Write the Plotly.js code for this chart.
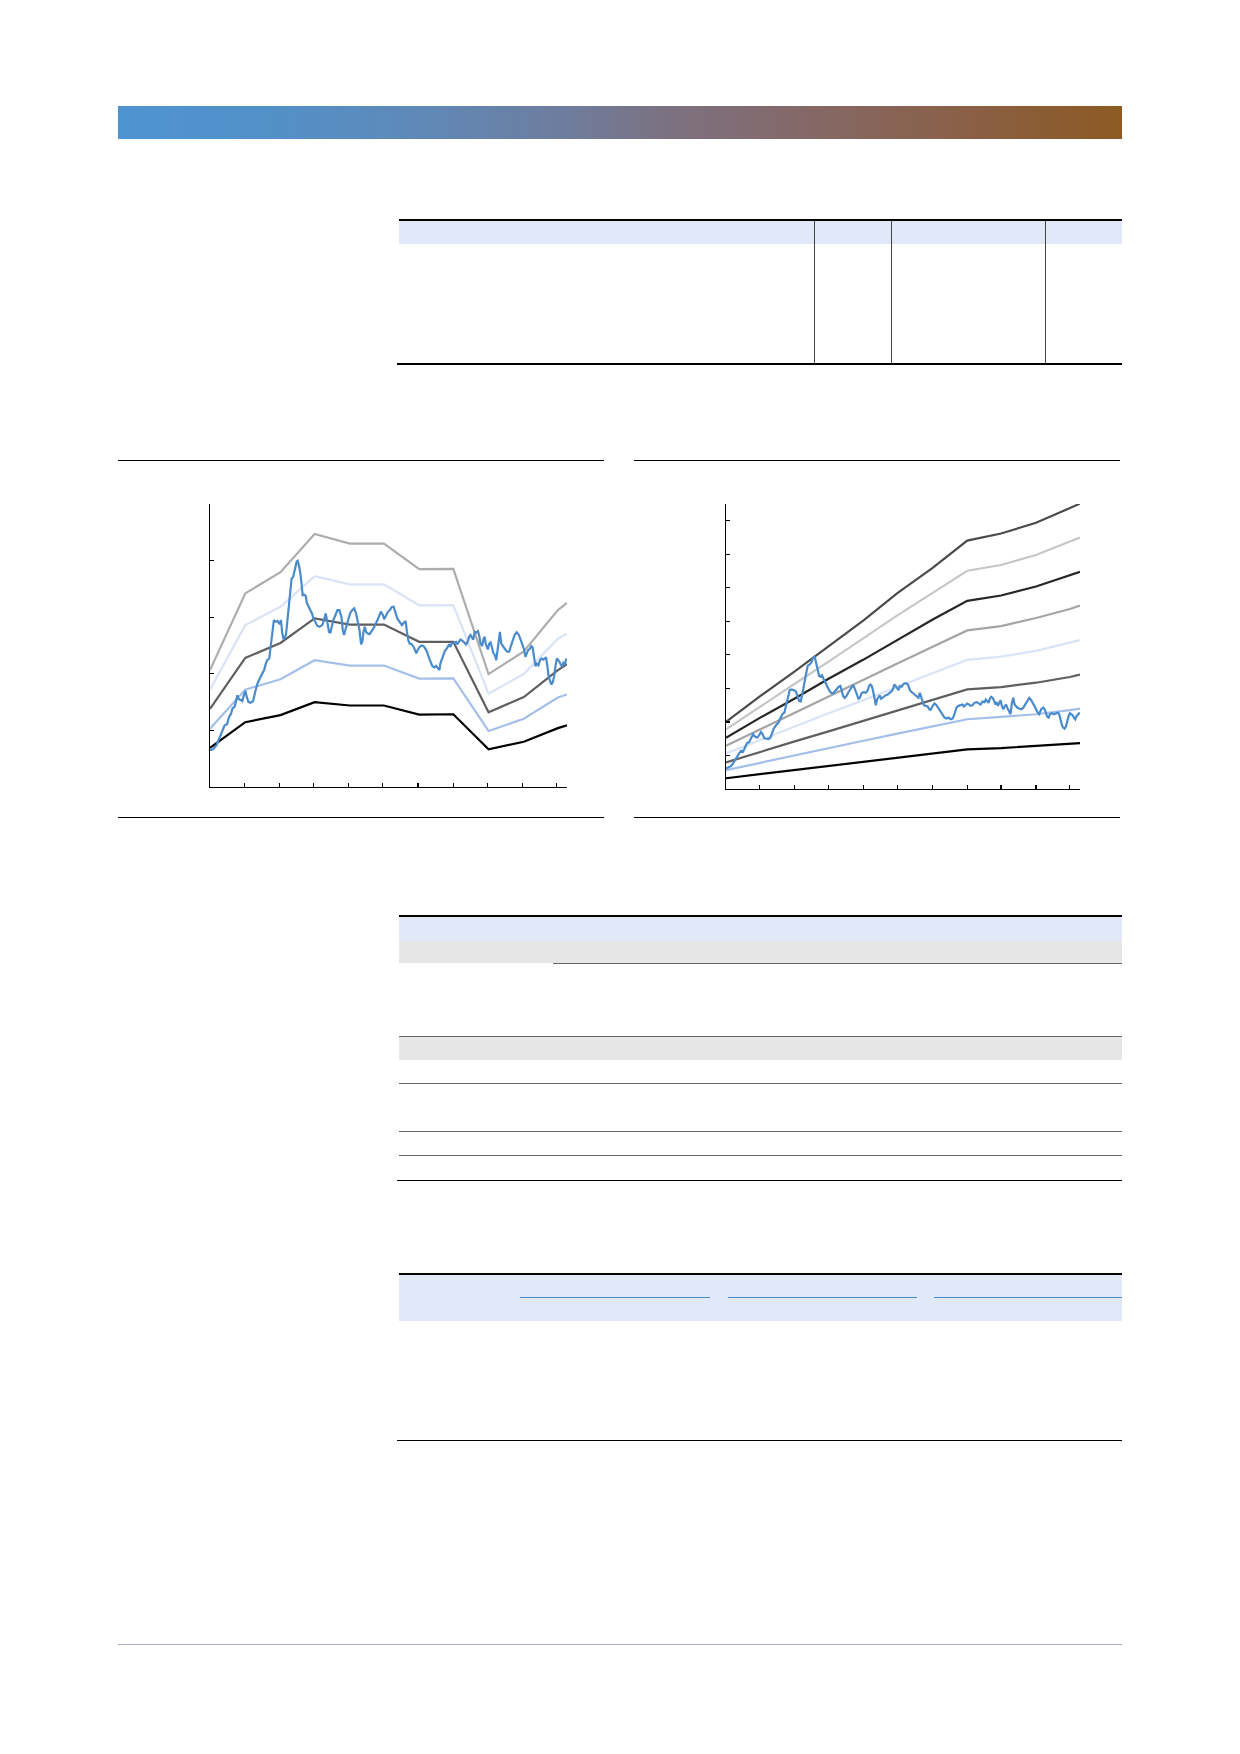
<!DOCTYPE html>
<html>
<head>
<meta charset="utf-8">
<script src="https://cdn.plot.ly/plotly-3.0.1.min.js"></script>
<style>
  html, body { margin: 0; padding: 0; background: #ffffff; }
  body { width: 1240px; height: 1754px; position: relative; overflow: hidden; font-family: "Liberation Sans", Arial, sans-serif; }
  .abs { position: absolute; }
  .band { left: 118px; top: 106px; width: 1004px; height: 33px;
    background: linear-gradient(to right, #4E94D2 0%, #5290C8 15%, #5F89B8 30%, #6F7C9C 45%, #7C7180 55%, #836A6E 65%, #87655A 75%, #8A5F45 85%, #8C5A22 100%); }
  .chart { position: absolute; }
</style>
</head>
<body>
<div class="abs band"></div>

<!-- top table -->
<div class="abs" style="left:399px;top:219px;width:723px;height:2px;background:#000"></div>
<div class="abs" style="left:399px;top:221px;width:723px;height:23px;background:#E1E8F7"></div>
<div class="abs" style="left:814px;top:221px;width:1px;height:142px;background:#444"></div>
<div class="abs" style="left:891px;top:221px;width:1px;height:142px;background:#444"></div>
<div class="abs" style="left:1045px;top:221px;width:1px;height:142px;background:#444"></div>
<div class="abs" style="left:397px;top:363px;width:725px;height:1.5px;background:#000"></div>

<!-- chart panels rules -->
<div class="abs" style="left:118px;top:460px;width:486px;height:1.2px;background:#000"></div>
<div class="abs" style="left:118px;top:817px;width:486px;height:1.2px;background:#000"></div>
<div class="abs" style="left:634px;top:460px;width:486px;height:1.2px;background:#000"></div>
<div class="abs" style="left:634px;top:817px;width:486px;height:1.2px;background:#000"></div>

<div id="leftChart" class="chart" style="left:200px;top:494px;width:377px;height:303px;"></div>
<div id="rightChart" class="chart" style="left:716px;top:494px;width:374px;height:305px;"></div>

<!-- middle table -->
<div class="abs" style="left:399px;top:915px;width:723px;height:1.5px;background:#000"></div>
<div class="abs" style="left:399px;top:916.5px;width:723px;height:24.5px;background:#E1E8F7"></div>
<div class="abs" style="left:399px;top:941px;width:723px;height:22px;background:#E6E6E6"></div>
<div class="abs" style="left:553px;top:962.5px;width:569px;height:1px;background:#666"></div>
<div class="abs" style="left:399px;top:1036px;width:723px;height:23.5px;background:#E6E6E6"></div>
<div class="abs" style="left:399px;top:1035.5px;width:723px;height:1px;background:#666"></div>
<div class="abs" style="left:399px;top:1082.5px;width:723px;height:1px;background:#666"></div>
<div class="abs" style="left:399px;top:1130.5px;width:723px;height:1px;background:#666"></div>
<div class="abs" style="left:399px;top:1154.5px;width:723px;height:1px;background:#666"></div>
<div class="abs" style="left:397px;top:1179.5px;width:725px;height:1.5px;background:#000"></div>

<!-- bottom table -->
<div class="abs" style="left:399px;top:1272.5px;width:723px;height:2.5px;background:#000"></div>
<div class="abs" style="left:399px;top:1275px;width:723px;height:46px;background:#E1E8F7"></div>
<div class="abs" style="left:520px;top:1297px;width:190px;height:1.3px;background:#4A8ACB"></div>
<div class="abs" style="left:728px;top:1297px;width:189px;height:1.3px;background:#4A8ACB"></div>
<div class="abs" style="left:934px;top:1297px;width:188px;height:1.3px;background:#4A8ACB"></div>
<div class="abs" style="left:397px;top:1440px;width:725px;height:1.2px;background:#000"></div>

<!-- footer rule -->
<div class="abs" style="left:118px;top:1644px;width:1004px;height:1px;background:#A9AEC4"></div>

<script>
// ---------- shared x axis (days) ----------
var monthTicks = [30, 61, 91, 122, 152, 183, 214, 244, 275, 305];

// ---------- left chart: seasonal bands ----------
var leftBandDays = [0, 31, 62, 92, 123, 153, 184, 214, 245, 276, 306, 314];
var leftMax   = [41.3, 68.4, 75.9, 89.4, 86.0, 86.0, 77.0, 77.1, 39.9, 47.9, 62.5, 65.1];
var leftHigh  = [34.4, 57.2, 63.7, 74.5, 71.6, 71.6, 64.2, 64.3, 33.0, 39.9, 52.4, 54.2];
var leftMid   = [27.6, 45.6, 50.9, 59.6, 57.4, 57.4, 51.3, 51.3, 26.4, 31.8, 41.3, 43.4];
var leftLow   = [20.6, 34.4, 38.1, 44.8, 42.9, 42.9, 38.3, 38.4, 19.8, 24.1, 31.6, 32.7];
var leftMin   = [13.8, 22.9, 25.4, 30.0, 28.8, 28.8, 25.6, 25.7, 13.3, 16.0, 20.8, 21.8];

var leftDays = [0,2.6,5.6,7.9,10.0,12.9,15.0,16.8,18.5,19.7,21.8,23.2,24.1,25.0,26.8,28.5,29.7,31.2,32.1,33.8,
35.6,37.9,39.7,41.8,43.8,46.2,47.6,49.1,50.3,52.1,53.2,54.7,56.2,57.9,59.4,61.2,62.4,63.5,64.7,66.8,
68.2,70.3,71.8,73.2,74.7,76.2,77.1,78.5,79.7,80.6,81.5,82.6,84.1,85.3,86.8,88.2,89.7,90.9,92.6,94.4,
96.2,97.6,98.8,100.3,101.8,102.6,103.8,104.7,105.9,107.4,108.5,110.3,112.1,113.8,115.6,116.8,117.9,119.4,120.9,122.1,
123.2,125.0,126.8,128.5,130.3,131.5,132.9,134.1,135.0,136.2,137.3,138.8,140.3,141.8,143.2,145.0,146.8,148.5,150.3,152.1,
153.2,154.7,156.5,158.5,160.0,161.5,162.6,163.8,165.0,166.2,167.4,168.8,170.6,172.1,173.2,174.4,175.6,177.4,179.1,180.3,
181.5,182.9,184.4,186.2,187.9,189.4,190.9,192.3,193.8,195.6,197.3,198.8,200.6,201.8,202.6,204.1,205.0,206.5,207.9,209.1,
210.3,211.5,212.6,213.8,215.3,216.5,217.3,218.5,220.3,222.1,223.8,225.3,226.8,227.9,229.1,230.3,231.5,232.9,234.4,235.6,
236.8,237.9,239.4,240.3,241.5,242.6,244.4,245.6,246.8,247.9,249.1,250.6,251.8,252.9,254.1,255.0,256.2,257.4,258.5,259.7,
261.5,263.2,264.4,266.2,267.9,269.7,271.5,273.2,274.7,276.2,277.4,278.5,279.7,281.5,282.6,283.8,285.0,286.2,287.4,288.8,
290.3,291.8,293.2,294.4,295.6,296.8,297.9,299.1,300.3,301.5,302.6,303.8,305.0,306.2,307.4,308.5,309.7,310.9,312.1,313.2,313.8];
var leftActual = [13.0,13.3,14.7,17.1,19.1,21.8,22.2,24.8,25.9,27.7,28.5,31.8,32.4,31.2,30.9,30.4,32.4,34.0,32.1,30.1,
29.8,30.4,33.6,36.6,38.3,39.9,41.3,43.6,44.8,45.4,48.9,53.1,59.0,58.4,58.7,57.5,59.0,54.5,52.1,53.7,
59.0,67.2,73.7,74.3,76.6,79.6,79.9,77.8,74.9,70.8,67.8,68.0,67.6,64.9,63.7,62.7,61.3,59.6,58.4,57.0,
56.6,57.0,57.2,59.0,61.3,59.6,56.4,54.8,54.6,57.2,59.0,60.7,62.5,62.5,60.1,55.4,53.7,56.0,57.8,59.6,
61.3,62.5,63.1,61.3,57.8,55.4,50.4,51.6,54.8,56.6,54.8,54.2,54.0,54.8,55.7,57.0,58.4,60.1,62.0,60.7,
59.3,60.4,61.9,62.7,63.6,63.7,62.1,60.5,59.3,58.7,57.8,57.2,58.1,58.6,54.8,51.9,50.7,50.5,49.5,48.0,
47.2,48.6,49.5,50.0,49.8,48.9,47.8,46.0,44.6,42.7,42.3,42.8,41.9,41.3,43.6,45.4,46.9,48.0,48.7,49.6,
50.4,49.5,50.7,50.9,51.1,51.3,50.4,51.2,52.1,51.6,50.9,50.4,51.5,53.1,53.7,52.7,52.1,54.8,54.6,55.1,
53.5,50.7,49.8,51.9,53.1,50.5,48.6,50.7,51.1,49.5,47.5,46.6,44.8,48.3,53.1,54.8,50.7,49.8,49.5,48.6,
47.8,47.8,49.5,51.6,53.7,54.7,53.9,52.1,50.4,48.7,46.0,47.2,48.3,48.9,49.8,49.3,44.8,42.7,43.6,43.0,
44.8,45.4,45.0,45.4,45.8,42.5,38.9,37.5,36.2,37.1,38.9,42.5,45.4,45.0,44.2,43.6,42.5,43.9,43.6,45.0,45.4];

// ---------- right chart: growth bands ----------
var rightBandDays = [0, 30, 61, 91, 122, 152, 183, 214, 244, 275, 305, 314];
var rightBand1 = [20.0, 27.6, 35.1, 42.6, 50.3, 58.4, 65.9, 74.1, 76.2, 79.4, 83.7, 85.1];
var rightBand2 = [17.8, 24.6, 31.4, 38.0, 45.0, 51.8, 58.4, 65.1, 66.8, 69.8, 73.8, 75.0];
var rightBand3 = [15.3, 21.2, 27.0, 32.9, 38.6, 44.5, 50.5, 56.1, 57.7, 60.4, 63.8, 64.8];
var rightBand4 = [12.9, 17.8, 22.8, 27.6, 32.6, 37.4, 42.4, 47.3, 48.6, 51.0, 53.7, 54.7];
var rightBand5 = [10.6, 14.6, 18.6, 22.6, 26.5, 30.5, 34.5, 38.5, 39.5, 41.2, 43.6, 44.4];
var rightBand6 = [7.9, 11.1, 14.2, 17.2, 20.4, 23.5, 26.6, 29.7, 30.4, 31.7, 33.4, 34.1];
var rightBand7 = [5.6, 7.8, 10.0, 12.2, 14.4, 16.5, 18.6, 20.8, 21.5, 22.3, 23.5, 24.0];
var rightBand8 = [3.2, 4.4, 5.6, 6.8, 8.1, 9.3, 10.6, 11.8, 12.2, 12.8, 13.4, 13.7];

var rightDays = [0,2.4,4.7,6.8,9.2,11.2,13.3,15.1,16.9,18.6,20.4,22.2,24.0,25.7,27.5,29.3,31.1,32.5,34.0,35.8,
37.6,39.4,40.8,42.3,44.4,46.5,48.2,50.0,51.8,53.0,54.1,55.3,56.5,58.3,60.1,61.8,63.3,64.8,66.3,67.5,
68.6,70.1,71.3,72.5,74.0,75.5,76.6,78.1,79.3,80.5,81.7,82.6,83.7,85.2,86.7,88.2,89.7,91.4,93.2,95.0,
96.8,98.5,100.0,101.5,102.7,103.9,105.3,106.8,108.3,109.8,111.3,112.7,113.9,115.1,116.3,117.5,118.7,120.4,122.2,124.0,
125.8,126.9,128.1,129.3,130.5,131.7,132.9,134.0,135.2,136.4,137.6,138.8,140.0,141.7,143.5,145.3,147.1,148.2,149.4,150.6,
151.8,153.0,154.2,155.9,157.1,158.3,160.1,161.3,162.4,163.6,165.4,167.2,169.0,170.7,171.9,173.1,174.3,175.5,177.2,179.0,
180.2,181.4,182.6,183.8,184.9,186.7,188.5,190.3,192.0,193.8,195.6,197.4,199.1,200.9,202.1,203.3,204.5,206.2,208.0,209.8,
211.0,212.5,213.9,215.4,216.9,218.7,220.4,222.2,224.0,225.8,227.5,229.3,230.5,231.7,232.9,234.0,235.2,236.4,237.6,238.8,
240.0,241.2,242.3,243.5,244.7,245.9,247.1,248.3,249.4,251.2,252.4,253.6,254.8,256.0,257.1,258.3,260.1,261.9,263.6,265.4,
267.2,269.0,270.7,272.5,274.3,276.1,277.8,279.6,281.4,282.6,283.8,284.9,286.1,287.3,289.1,290.9,292.6,294.4,295.6,296.8,
298.0,299.1,300.3,301.5,302.7,303.9,305.1,306.2,307.4,308.6,309.8,311.0,312.8,313.9];
var rightActual = [6.1,6.4,6.9,7.9,9.4,10.4,11.4,11.1,12.4,13.7,13.9,15.3,16.3,15.6,15.3,16.0,17.0,16.3,15.1,15.0,
14.9,15.3,16.8,18.0,19.0,19.8,21.0,22.3,22.8,24.3,26.0,27.9,29.5,29.7,29.5,29.2,27.9,26.3,26.1,27.7,
29.9,32.7,35.1,36.8,37.1,37.6,38.6,39.6,38.6,37.1,35.1,33.7,33.5,33.9,32.7,31.7,30.5,29.5,28.7,28.5,
29.2,29.9,30.5,30.7,29.2,27.7,27.2,27.7,28.7,29.5,30.5,31.0,30.2,28.9,27.7,26.9,27.2,28.7,28.9,28.7,
29.5,30.7,31.2,30.7,29.2,27.2,25.0,26.7,27.5,27.9,26.9,27.2,27.7,28.0,28.2,28.7,29.2,29.9,31.2,30.7,
29.9,29.5,30.7,30.5,31.2,31.5,31.5,31.2,30.2,29.2,28.7,28.2,27.7,27.2,28.7,27.2,25.7,25.0,24.8,24.6,
23.8,23.6,24.3,25.2,25.5,25.0,24.0,23.0,22.1,21.3,21.0,21.3,20.8,21.0,21.8,23.3,24.3,24.8,25.0,25.2,
24.6,25.0,25.5,25.2,24.8,25.0,25.7,25.9,25.5,25.2,26.1,25.9,26.7,26.2,25.7,26.9,27.5,27.2,26.5,25.2,
25.9,24.8,25.5,26.5,24.8,23.8,24.6,25.2,24.3,23.3,22.3,25.7,27.2,25.2,24.8,24.3,24.0,23.8,24.2,25.2,
26.5,27.2,26.5,25.5,24.3,23.0,22.3,23.8,24.3,23.8,22.3,21.6,21.3,22.3,22.6,22.3,22.5,22.8,22.3,20.3,
19.0,18.3,18.0,18.6,20.3,21.8,22.6,22.3,22.0,21.3,20.8,21.8,22.3,22.8];

// ---------- styles ----------
var blue = '#4A8BCB';
function line(x, y, color, width) {
  return { x: x, y: y, type: 'scatter', mode: 'lines', line: { color: color, width: width || 2.2, shape: 'linear' }, hoverinfo: 'skip' };
}
function axisX() {
  return { range: [0, 314], showline: true, linecolor: '#000', linewidth: 1.3, mirror: false,
    ticks: 'inside', ticklen: 4, tickwidth: 1.2, tickcolor: '#000', tickmode: 'array', tickvals: monthTicks,
    showticklabels: false, showgrid: false, zeroline: false, fixedrange: true };
}
function axisY(range, tv) {
  return { range: range, showline: true, linecolor: '#000', linewidth: 1.3, mirror: false,
    ticks: 'inside', ticklen: 4, tickwidth: 1.2, tickcolor: '#000', tickmode: 'array', tickvals: tv,
    showticklabels: false, showgrid: false, zeroline: false, fixedrange: true };
}
function baseLayout(yr, tv, w, h) {
  return {
    width: w, height: h,
    margin: { l: 10, r: 10, t: 10, b: 10, pad: 0 },
    paper_bgcolor: 'rgba(0,0,0,0)', plot_bgcolor: 'rgba(0,0,0,0)',
    showlegend: false,
    xaxis: axisX(), yaxis: axisY(yr, tv)
  };
}
var cfg = { staticPlot: true, displayModeBar: false, responsive: false };

var leftTraces = [
  line(leftBandDays, leftMax, '#ADADAD'),
  line(leftBandDays, leftHigh, '#DAE3F6'),
  line(leftBandDays, leftMid, '#5F5F5F'),
  line(leftBandDays, leftLow, '#A5C0E8'),
  line(leftBandDays, leftMin, '#000000'),
  line(leftDays, leftActual, blue, 2.2)
];
Plotly.newPlot('leftChart', leftTraces, baseLayout([0, 100], [20, 40, 60, 80, 100], 377, 303), cfg);

var rightTraces = [
  line(rightBandDays, rightBand1, '#4B4B4B'),
  line(rightBandDays, rightBand2, '#C6C6C6'),
  line(rightBandDays, rightBand3, '#262626'),
  line(rightBandDays, rightBand4, '#A5A5A5'),
  line(rightBandDays, rightBand5, '#D9E4F7'),
  line(rightBandDays, rightBand6, '#5F5F5F'),
  line(rightBandDays, rightBand7, '#A3BEE9'),
  line(rightBandDays, rightBand8, '#000000'),
  line(rightDays, rightActual, blue, 2.2)
];
Plotly.newPlot('rightChart', rightTraces, baseLayout([0, 85], [10, 20, 30, 40, 50, 60, 70, 80], 374, 305), cfg);
</script>
</body>
</html>
